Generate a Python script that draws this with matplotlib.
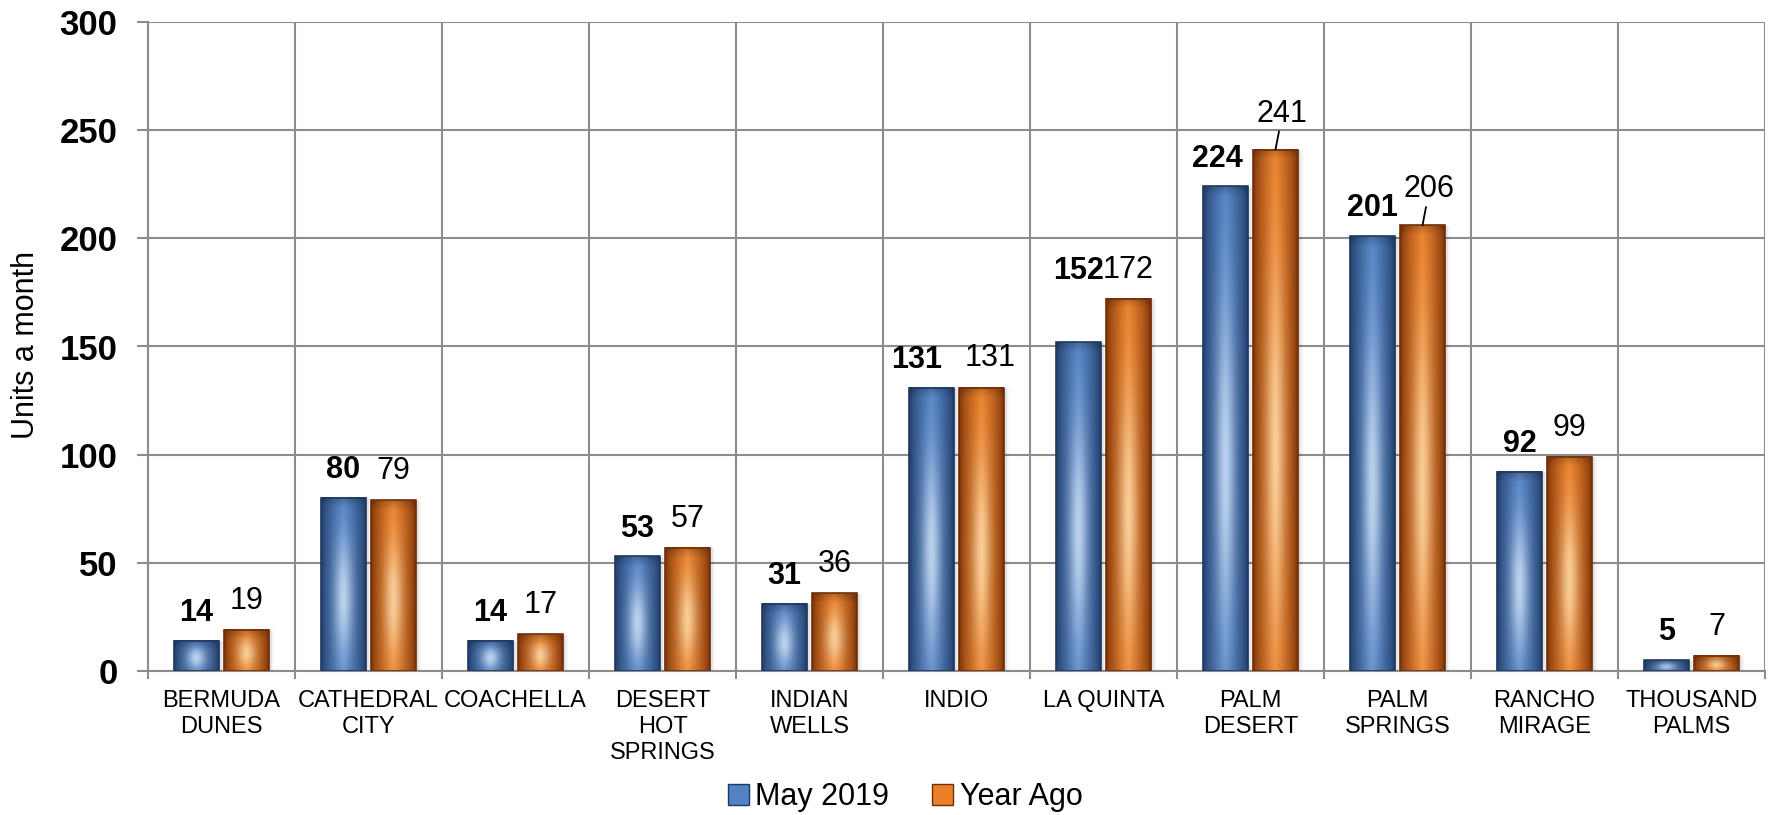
import numpy as np
import matplotlib
matplotlib.use("Agg")
import matplotlib.pyplot as plt
from matplotlib.patches import Rectangle, Patch

# data
cities = ["BERMUDA\nDUNES", "CATHEDRAL\nCITY", "COACHELLA", "DESERT\nHOT\nSPRINGS",
          "INDIAN\nWELLS", "INDIO", "LA QUINTA", "PALM\nDESERT", "PALM\nSPRINGS",
          "RANCHO\nMIRAGE", "THOUSAND\nPALMS"]
may_2019 = [14, 80, 14, 53, 31, 131, 152, 224, 201, 92, 5]
year_ago = [19, 79, 17, 57, 36, 131, 172, 241, 206, 99, 7]
yticks = [0, 50, 100, 150, 200, 250, 300]

plt.rcParams["font.family"] = ["Liberation Sans", "DejaVu Sans"]

# colour ramps: dark edge, mid body, highlight
blue = dict(dark=np.array([0.12, 0.22, 0.38]), mid=np.array([0.32, 0.51, 0.77]),
            light=np.array([0.80, 0.88, 0.97]))
orange = dict(dark=np.array([0.45, 0.18, 0.03]), mid=np.array([0.92, 0.50, 0.16]),
              light=np.array([1.00, 0.86, 0.66]))


def bar_image(c, h):
    ny = max(int(h * 2.2), 6)
    u = np.linspace(0, 1, 48)[None, :]
    v = np.linspace(1, 0, ny)[:, None]
    hp = (1 - np.abs(2 * u - 1)) ** 0.6
    hl = np.exp(-((u - 0.5) / 0.22) ** 2) * np.exp(-((v - 0.42) / 0.35) ** 2)
    img = c["dark"] + (c["mid"] - c["dark"]) * hp[..., None] \
        + (c["light"] - c["mid"]) * hl[..., None] * 0.85
    # bevel at the top
    top = np.clip((v - (1 - 10 / ny)) * ny / 10, 0, 1)
    img = img * (1 - 0.2 * top[..., None])
    return np.clip(img, 0, 1)


fig = plt.figure(figsize=(17.73, 8.15), dpi=100)
ax = fig.add_axes([148 / 1773, 1 - 671 / 815, (1765 - 148) / 1773, (671 - 22) / 815])

x = np.arange(len(cities))
w = 0.30
grid_c = "#8c8c8c"

for i in range(len(cities)):
    for val, off, c in ((may_2019[i], -0.17, blue), (year_ago[i], 0.17, orange)):
        x0 = i + off - w / 2
        # soft shadow
        for k, a in enumerate([0.10, 0.07, 0.04]):
            ax.add_patch(Rectangle((x0 + 0.012 * (k + 1), -0.5), w, val + 0.3,
                                   facecolor="black", alpha=a, lw=0, zorder=2))
        ax.imshow(bar_image(c, val), extent=(x0, x0 + w, 0, val), aspect="auto",
                  interpolation="bilinear", zorder=3)
        ax.add_patch(Rectangle((x0, 0), w, val, fill=False, edgecolor=c["dark"],
                               lw=1.2, zorder=4))

# data labels (a few were nudged by hand in the original)
lab_kw = dict(textcoords="offset points", ha="center", va="center", fontsize=22, zorder=5)
for i in range(len(cities)):
    dy = 51 if may_2019[i] == 152 else 20
    dx = {5: -11, 7: -6}.get(i, 0)
    ax.annotate(str(may_2019[i]), (i - 0.17, may_2019[i]), xytext=(dx, dy),
                fontweight="bold", **lab_kw)
    if year_ago[i] in (241, 206):
        ax.annotate(str(year_ago[i]), (i + 0.17, year_ago[i]), xytext=(5, 26),
                    arrowprops=dict(arrowstyle="-", color="black", lw=1.3,
                                    shrinkA=16, shrinkB=0), **lab_kw)
    else:
        ox = 6.5 if i == 5 else 0
        ax.annotate(str(year_ago[i]), (i + 0.17, year_ago[i]), xytext=(ox, 21), **lab_kw)

ax.set_xlim(-0.5, len(cities) - 0.5)
ax.set_ylim(0, 300)
ax.set_yticks(yticks)
ax.set_yticklabels([str(t) for t in yticks], fontsize=25, fontweight="bold")
ax.set_xticks(x)
ax.set_xticklabels(cities, fontsize=17, linespacing=1.22)
ax.set_xticks(np.arange(len(cities) + 1) - 0.5, minor=True)
ax.tick_params(axis="x", which="major", length=0, pad=14)
ax.tick_params(axis="x", which="minor", length=6, width=1.5, color=grid_c)
ax.tick_params(axis="y", length=8, width=1.5, color=grid_c, pad=14)

ax.grid(axis="y", color=grid_c, lw=1.5, zorder=1)
ax.grid(axis="x", which="minor", color=grid_c, lw=1.5, zorder=1)
ax.set_axisbelow(True)
for s in ["top", "right"]:
    ax.spines[s].set_visible(False)
for s in ["left", "bottom"]:
    ax.spines[s].set_color(grid_c)
    ax.spines[s].set_linewidth(1.5)

fig.text(26 / 1773, 1 - 345 / 815, "Units a month", rotation=90, fontsize=22,
         ha="center", va="center")

handles = [Patch(facecolor=blue["mid"], edgecolor=blue["dark"], label="May 2019"),
           Patch(facecolor=orange["mid"], edgecolor=orange["dark"], label="Year Ago")]
fig.legend(handles=handles, loc="center", bbox_to_anchor=(905 / 1773, 1 - 797 / 815),
           ncol=2, frameon=False, fontsize=22, handlelength=0.7, handleheight=0.7,
           handletextpad=0.2, columnspacing=1.4)

fig.savefig("out.png", dpi=100)
